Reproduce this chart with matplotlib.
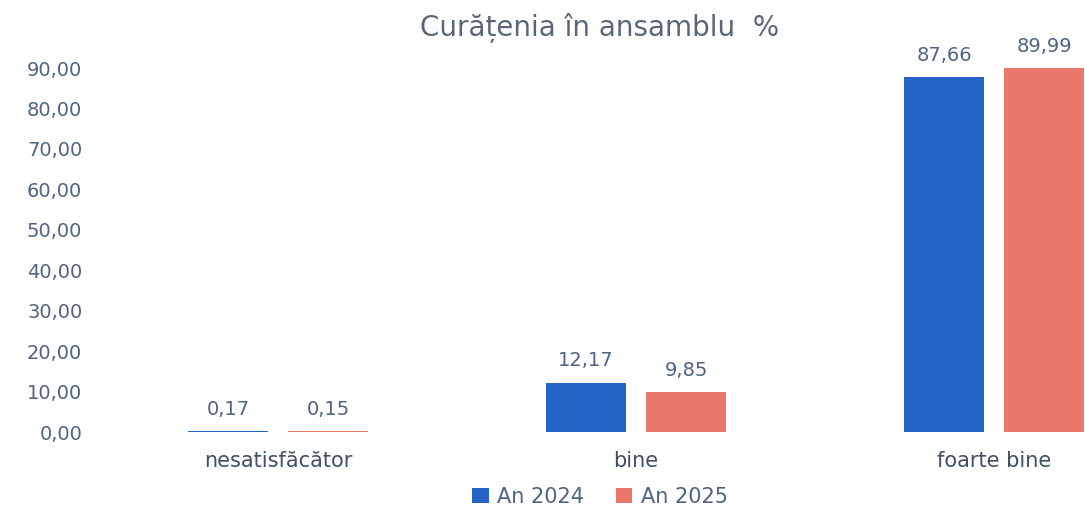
import matplotlib.pyplot as plt
import numpy as np

# --- Datos ---
categories = ["nesatisfăcător", "bine", "foarte bine"]
an_2024 = [0.17, 12.17, 87.66]
an_2025 = [0.15, 9.85, 89.99]
series_labels = ["An 2024", "An 2025"]
yticks = [0, 10, 20, 30, 40, 50, 60, 70, 80, 90]

blue = "#2563c6"
red = "#e9786b"
text_col = "#4f6483"

plt.rcParams['font.family'] = ['DejaVu Sans']

fig = plt.figure(figsize=(10.85, 5.12), dpi=100)
ax = fig.add_axes([99 / 1085, 80 / 512, (1085 - 99) / 1085, 364 / 512])

x = np.arange(len(categories))
w = 0.223
off = 0.14
b1 = ax.bar(x - off, an_2024, w, color=blue, linewidth=0, label=series_labels[0])
b2 = ax.bar(x + off, an_2025, w, color=red, linewidth=0, label=series_labels[1])

for bars, vals in [(b1, an_2024), (b2, an_2025)]:
    for rect, v in zip(bars, vals):
        ax.annotate(f"{v:.2f}".replace(".", ","),
                    (rect.get_x() + rect.get_width() / 2, rect.get_height()),
                    xytext=(0, 9), textcoords="offset points",
                    ha="center", va="bottom", fontsize=14, color=text_col,
                    annotation_clip=False)

ax.set_xlim(-0.5, 2.254)
ax.set_ylim(0, 90)
ax.set_yticks(yticks)
ax.set_yticklabels([f"{t:.2f}".replace(".", ",") for t in yticks],
                   fontsize=14, color=text_col)
ax.set_xticks(x)
ax.set_xticklabels(categories, fontsize=15, color="#3f4f66")
ax.tick_params(axis="both", length=0)
ax.tick_params(axis="y", pad=12)
ax.tick_params(axis="x", pad=14)
for s in ax.spines.values():
    s.set_visible(False)

fig.text(0.553, 0.945, "Curățenia în ansamblu  %", ha="center", va="center",
         fontsize=20, color="#5a6678")

fig.legend(loc="center", bbox_to_anchor=(0.553, 0.03), ncol=2, frameon=False,
           fontsize=15, handlelength=0.8, handleheight=0.7, columnspacing=1.5,
           handletextpad=0.4, labelcolor=text_col)

fig.savefig("out.png", dpi=100)
